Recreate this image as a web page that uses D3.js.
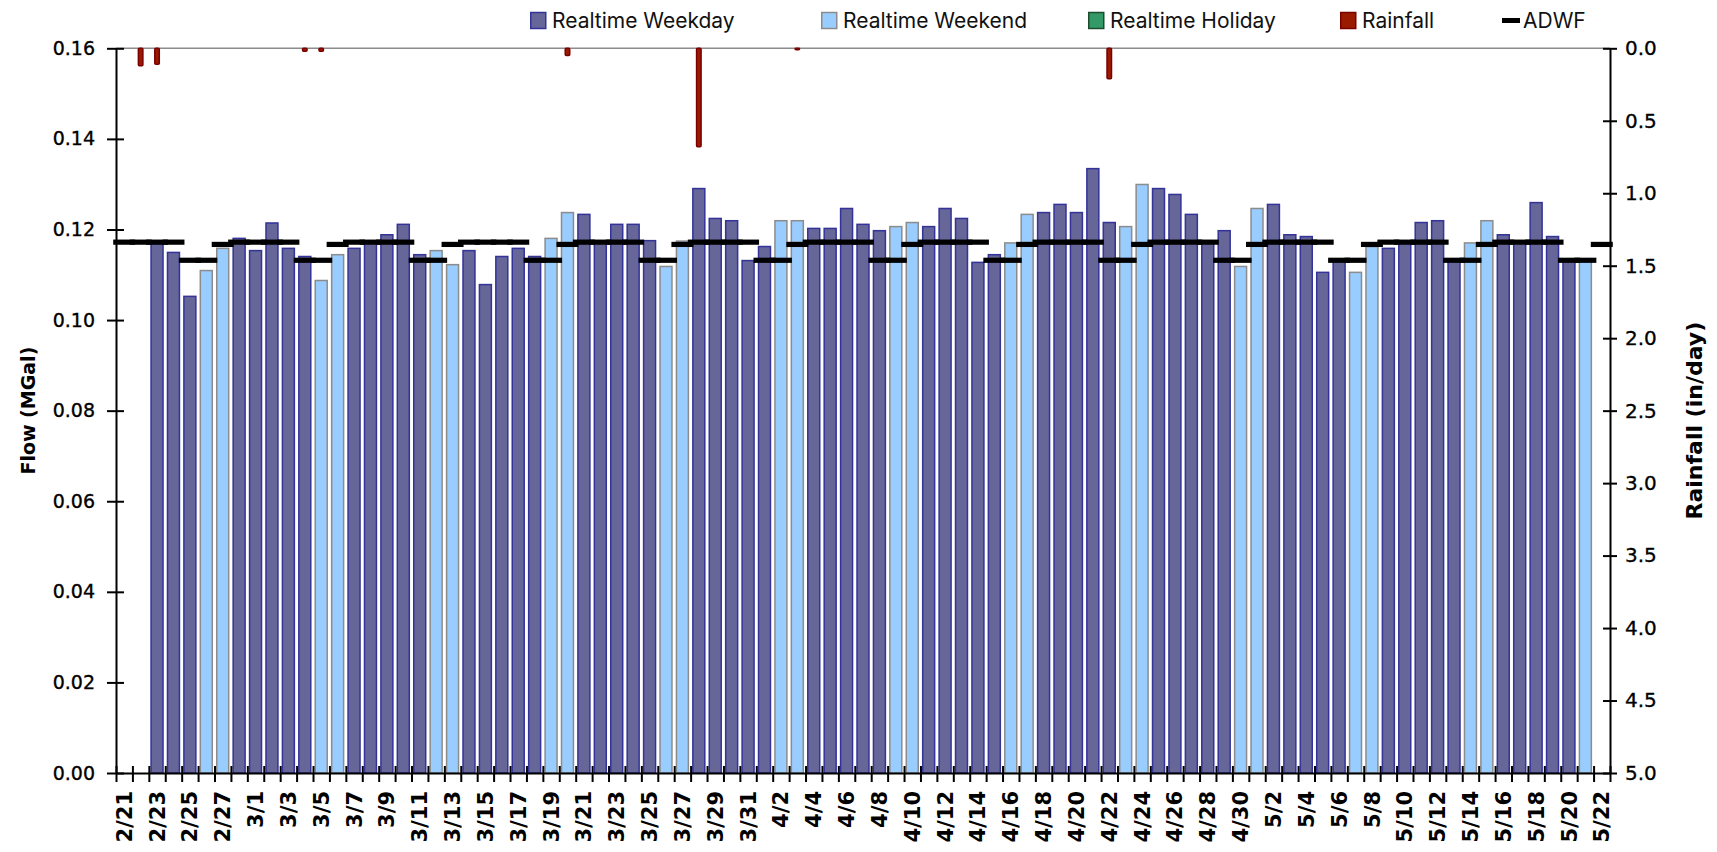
<!DOCTYPE html>
<html>
<head>
<meta charset="utf-8">
<script src="https://cdn.jsdelivr.net/npm/d3@7/dist/d3.min.js"></script>
<style>
  html, body { margin: 0; padding: 0; background: #fff; }
  svg { display: block; }
</style>
</head>
<body>
<svg id="chart" width="1717" height="852"></svg>
<script>
// Daily categories, one row per week (Mon..Sun)
const dates = [
  "2/21","2/22","2/23","2/24","2/25","2/26","2/27",
  "2/28","3/1","3/2","3/3","3/4","3/5","3/6",
  "3/7","3/8","3/9","3/10","3/11","3/12","3/13",
  "3/14","3/15","3/16","3/17","3/18","3/19","3/20",
  "3/21","3/22","3/23","3/24","3/25","3/26","3/27",
  "3/28","3/29","3/30","3/31","4/1","4/2","4/3",
  "4/4","4/5","4/6","4/7","4/8","4/9","4/10",
  "4/11","4/12","4/13","4/14","4/15","4/16","4/17",
  "4/18","4/19","4/20","4/21","4/22","4/23","4/24",
  "4/25","4/26","4/27","4/28","4/29","4/30","5/1",
  "5/2","5/3","5/4","5/5","5/6","5/7","5/8",
  "5/9","5/10","5/11","5/12","5/13","5/14","5/15",
  "5/16","5/17","5/18","5/19","5/20","5/21","5/22"
];

// Day type: D = weekday, E = weekend, H = holiday
const dayType = [
  "D","D","D","D","D","E","E",
  "D","D","D","D","D","E","E",
  "D","D","D","D","D","E","E",
  "D","D","D","D","D","E","E",
  "D","D","D","D","D","E","E",
  "D","D","D","D","D","E","E",
  "D","D","D","D","D","E","E",
  "D","D","D","D","D","E","E",
  "D","D","D","D","D","E","E",
  "D","D","D","D","D","E","E",
  "D","D","D","D","D","E","E",
  "D","D","D","D","D","E","E",
  "D","D","D","D","D","E","E"
];

// Realtime daily flow (MGal)
const flow = [
  null,   null,   0.1170, 0.1151, 0.1054, 0.1111, 0.1160,
  0.1182, 0.1155, 0.1216, 0.1160, 0.1142, 0.1089, 0.1146,
  0.1160, 0.1175, 0.1190, 0.1213, 0.1146, 0.1155, 0.1124,
  0.1155, 0.1080, 0.1142, 0.1160, 0.1142, 0.1182, 0.1239,
  0.1235, 0.1175, 0.1213, 0.1213, 0.1177, 0.1120, 0.1176,
  0.1292, 0.1226, 0.1221, 0.1133, 0.1164, 0.1221, 0.1221,
  0.1204, 0.1204, 0.1248, 0.1213, 0.1199, 0.1208, 0.1217,
  0.1208, 0.1248, 0.1226, 0.1129, 0.1146, 0.1172, 0.1235,
  0.1239, 0.1257, 0.1239, 0.1336, 0.1217, 0.1208, 0.1301,
  0.1292, 0.1279, 0.1235, 0.1175, 0.1199, 0.1120, 0.1248,
  0.1257, 0.1190, 0.1186, 0.1107, 0.1135, 0.1107, 0.1164,
  0.1160, 0.1172, 0.1217, 0.1221, 0.1135, 0.1172, 0.1221,
  0.1190, 0.1175, 0.1261, 0.1186, 0.1135, 0.1135, null
];

// Daily rainfall (in/day)
const rainfall = [
  0,    0.12, 0.11, 0,    0,    0,    0,
  0,    0,    0,    0,    0.02, 0.02, 0,
  0,    0,    0,    0,    0,    0,    0,
  0,    0,    0,    0,    0,    0,    0.05,
  0,    0,    0,    0,    0,    0,    0,
  0.68, 0,    0,    0,    0,    0,    0.01,
  0,    0,    0,    0,    0,    0,    0,
  0,    0,    0,    0,    0,    0,    0,
  0,    0,    0,    0,    0.21, 0,    0,
  0,    0,    0,    0,    0,    0,    0,
  0,    0,    0,    0,    0,    0,    0,
  0,    0,    0,    0,    0,    0,    0,
  0,    0,    0,    0,    0,    0,    0
];

// Average dry weather flow (MGal)
const adwf = [
  0.1172, 0.1172, 0.1172, 0.1172, 0.1132, 0.1132, 0.1167,
  0.1172, 0.1172, 0.1172, 0.1172, 0.1132, 0.1132, 0.1167,
  0.1172, 0.1172, 0.1172, 0.1172, 0.1132, 0.1132, 0.1167,
  0.1172, 0.1172, 0.1172, 0.1172, 0.1132, 0.1132, 0.1167,
  0.1172, 0.1172, 0.1172, 0.1172, 0.1132, 0.1132, 0.1167,
  0.1172, 0.1172, 0.1172, 0.1172, 0.1132, 0.1132, 0.1167,
  0.1172, 0.1172, 0.1172, 0.1172, 0.1132, 0.1132, 0.1167,
  0.1172, 0.1172, 0.1172, 0.1172, 0.1132, 0.1132, 0.1167,
  0.1172, 0.1172, 0.1172, 0.1172, 0.1132, 0.1132, 0.1167,
  0.1172, 0.1172, 0.1172, 0.1172, 0.1132, 0.1132, 0.1167,
  0.1172, 0.1172, 0.1172, 0.1172, 0.1132, 0.1132, 0.1167,
  0.1172, 0.1172, 0.1172, 0.1172, 0.1132, 0.1132, 0.1167,
  0.1172, 0.1172, 0.1172, 0.1172, 0.1132, 0.1132, 0.1167
];

const flowTicks = [0, 0.02, 0.04, 0.06, 0.08, 0.10, 0.12, 0.14, 0.16];
const rainTicks = [0, 0.5, 1, 1.5, 2, 2.5, 3, 3.5, 4, 4.5, 5];
const legendItems = [
  { key: "D", label: "Realtime Weekday" },
  { key: "E", label: "Realtime Weekend" },
  { key: "H", label: "Realtime Holiday" },
  { key: "R", label: "Rainfall" },
  { key: "A", label: "ADWF" }
];

(function draw() {
  // ---- layout & styles ----
  const pL = 116, pR = 1610, pT = 48.3, pB = 773;
  const styles = {
    D: { fill: "#666699", stroke: "#333399" },
    E: { fill: "#99ccff", stroke: "#8c8c8c" },
    H: { fill: "#339966", stroke: "#1e4d2e" },
    R: { fill: "#9a1a00", stroke: "#7a0000" }
  };
  const tickFont = "'DejaVu Sans', Verdana, sans-serif";

  const svg = d3.select("#chart");

  const x = d3.scaleBand().domain(dates).range([pL, pR]).paddingInner(0).paddingOuter(0);
  const xEdge = d3.scaleLinear().domain([0, dates.length]).range([pL, pR]);
  const yFlow = d3.scaleLinear().domain([0, 0.16]).range([pB, pT]);
  const yRain = d3.scaleLinear().domain([0, 5]).range([pT, pB]);
  const bw = x.bandwidth();
  const cx = d => x(d) + bw / 2;

  const rows = dates.map((d, i) => ({
    date: d, type: dayType[i], flow: flow[i], rain: rainfall[i], adwf: adwf[i]
  }));

  // plot top border
  svg.append("line")
    .attr("x1", pL).attr("x2", pR).attr("y1", pT).attr("y2", pT)
    .attr("stroke", "#8c8c8c").attr("stroke-width", 1.6);

  // flow bars
  const barW = bw * 0.82;
  svg.append("g").selectAll("rect")
    .data(rows.filter(r => r.flow != null))
    .join("rect")
    .attr("x", r => cx(r.date) - barW / 2 + 0.75)
    .attr("width", barW - 1.5)
    .attr("y", r => yFlow(r.flow) + 0.75)
    .attr("height", r => pB - yFlow(r.flow) - 0.75)
    .attr("fill", r => styles[r.type].fill)
    .attr("stroke", r => styles[r.type].stroke)
    .attr("stroke-width", 1.5);

  // rainfall bars, hanging from the top (reversed right axis)
  const rainW = 6;
  svg.append("g").selectAll("rect")
    .data(rows.filter(r => r.rain > 0))
    .join("rect")
    .attr("x", r => cx(r.date) - rainW / 2 + 0.75)
    .attr("width", rainW - 1.5)
    .attr("y", yRain(0))
    .attr("height", r => yRain(r.rain) - yRain(0))
    .attr("rx", 1)
    .attr("fill", styles.R.fill)
    .attr("stroke", styles.R.stroke)
    .attr("stroke-width", 1.5);

  // ADWF dash markers
  const dashW = 22, dashH = 5.2;
  svg.append("g").selectAll("rect")
    .data(rows)
    .join("rect")
    .attr("x", r => cx(r.date) - dashW / 2)
    .attr("y", r => yFlow(r.adwf) - dashH / 2)
    .attr("width", dashW)
    .attr("height", dashH)
    .attr("fill", "#000");

  // ---- axes ----
  // left (flow) axis
  const gL = svg.append("g").attr("transform", `translate(${pL},0)`)
    .call(d3.axisLeft(yFlow).tickValues(flowTicks).tickFormat(d3.format(".2f"))
      .tickSizeInner(0).tickSizeOuter(0).tickPadding(21));
  gL.select(".domain").attr("stroke", "#000").attr("stroke-width", 2);
  gL.selectAll(".tick line").attr("x1", -9).attr("x2", 8).attr("stroke", "#000").attr("stroke-width", 2);
  gL.selectAll(".tick text").attr("font-family", tickFont).attr("font-size", 19)
    .attr("fill", "#000").attr("stroke", "#000").attr("stroke-width", 0.35);

  // right (rainfall) axis
  const gR = svg.append("g").attr("transform", `translate(${pR},0)`)
    .call(d3.axisRight(yRain).tickValues(rainTicks).tickFormat(d3.format(".1f"))
      .tickSizeInner(0).tickSizeOuter(0).tickPadding(15));
  gR.select(".domain").attr("stroke", "#000").attr("stroke-width", 2);
  gR.selectAll(".tick line").attr("x1", -7).attr("x2", 7).attr("stroke", "#000").attr("stroke-width", 2);
  gR.selectAll(".tick text").attr("font-family", tickFont).attr("font-size", 20)
    .attr("fill", "#000").attr("stroke", "#000").attr("stroke-width", 0.3);

  // bottom (category) axis: ticks between categories
  const gB = svg.append("g").attr("transform", `translate(0,${pB})`)
    .call(d3.axisBottom(xEdge).tickValues(d3.range(0, dates.length + 1)).tickFormat("")
      .tickSizeInner(0).tickSizeOuter(0));
  gB.select(".domain").attr("stroke", "#000").attr("stroke-width", 2);
  gB.selectAll(".tick line").attr("y1", -7).attr("y2", 9).attr("stroke", "#000").attr("stroke-width", 2);

  // date labels every second day
  svg.append("g").selectAll("text")
    .data(dates.filter((d, i) => i % 2 === 0))
    .join("text")
    .attr("transform", d => `translate(${cx(d)},791) rotate(-90)`)
    .attr("text-anchor", "end")
    .attr("dy", "0.36em")
    .attr("font-family", tickFont)
    .attr("font-weight", "bold")
    .attr("font-size", 21)
    .attr("fill", "#000")
    .text(d => d);

  // axis titles
  svg.append("text")
    .attr("transform", `translate(28,${(pT + pB) / 2}) rotate(-90)`)
    .attr("text-anchor", "middle").attr("dy", "0.36em")
    .attr("font-family", tickFont).attr("font-weight", "bold").attr("font-size", 19)
    .text("Flow (MGal)");
  svg.append("text")
    .attr("transform", `translate(1694,${(pT + pB) / 2 + 10}) rotate(-90)`)
    .attr("text-anchor", "middle").attr("dy", "0.36em")
    .attr("font-family", tickFont).attr("font-weight", "bold").attr("font-size", 22)
    .text("Rainfall (in/day)");

  // ---- legend ----
  const legendX = [530, 821, 1088, 1340, 1502];
  const lg = svg.append("g").selectAll("g")
    .data(legendItems)
    .join("g")
    .attr("transform", (d, i) => `translate(${legendX[i]},0)`);
  lg.filter(d => d.key !== "A").append("rect")
    .attr("x", 0.75).attr("y", 12.5).attr("width", 15).attr("height", 16)
    .attr("fill", d => styles[d.key].fill)
    .attr("stroke", d => styles[d.key].stroke)
    .attr("stroke-width", 1.5);
  lg.filter(d => d.key === "A").append("rect")
    .attr("x", 0).attr("y", 18).attr("width", 18).attr("height", 5).attr("fill", "#000");
  lg.append("text")
    .attr("x", d => d.key === "A" ? 21 : 22)
    .attr("y", 28)
    .attr("font-family", "Inter, 'Noto Sans', sans-serif")
    .attr("font-size", 21)
    .attr("fill", "#111")
    .text(d => d.label);
})();
</script>
</body>
</html>
